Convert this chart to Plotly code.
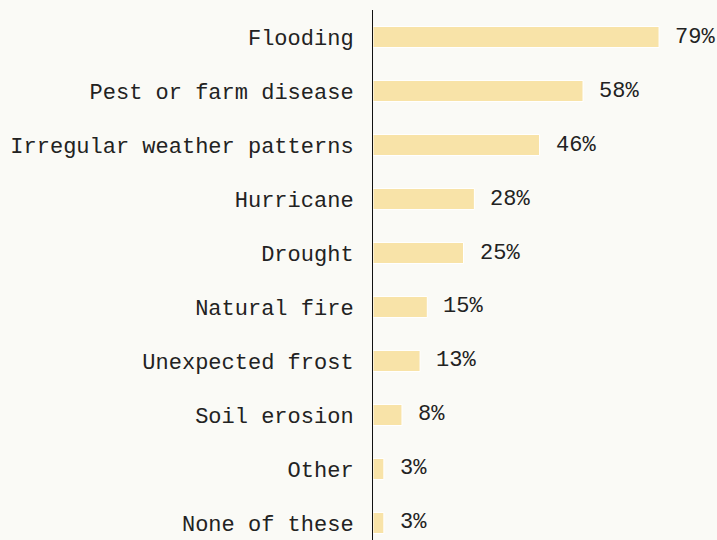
import plotly.graph_objects as go

categories = ["Flooding", "Pest or farm disease", "Irregular weather patterns", "Hurricane",
              "Drought", "Natural fire", "Unexpected frost", "Soil erosion", "Other", "None of these"]
values = [79, 58, 46, 28, 25, 15, 13, 8, 3, 3]
labels = [f"{v}%" for v in values]

BG = "#fafaf6"
FONT = "Liberation Mono, DejaVu Sans Mono, monospace"

fig = go.Figure(go.Bar(
    y=categories, x=values, orientation="h",
    marker=dict(color="#f8e3a8", line=dict(color="white", width=1)),
    width=0.39, hoverinfo="skip",
))

for c, v, t in zip(categories, values, labels):
    fig.add_annotation(x=v, y=c, text=t, showarrow=False, xanchor="left", xshift=14,
                       font=dict(family=FONT, size=22, color="#222222"))

fig.update_layout(
    width=717, height=540,
    margin=dict(l=373, r=0, t=10, b=0),
    paper_bgcolor=BG, plot_bgcolor=BG,
    showlegend=False,
    font=dict(family=FONT, size=22, color="#222222"),
    xaxis=dict(range=[0, 95], visible=False, showgrid=False, zeroline=False),
    yaxis=dict(type="category", categoryorder="array", categoryarray=categories,
               range=[9.315, -0.5], showgrid=False, zeroline=False,
               showline=True, linecolor="#111111", linewidth=1,
               ticks="", ticklabelstandoff=14),
)

fig.write_html("out.html")
